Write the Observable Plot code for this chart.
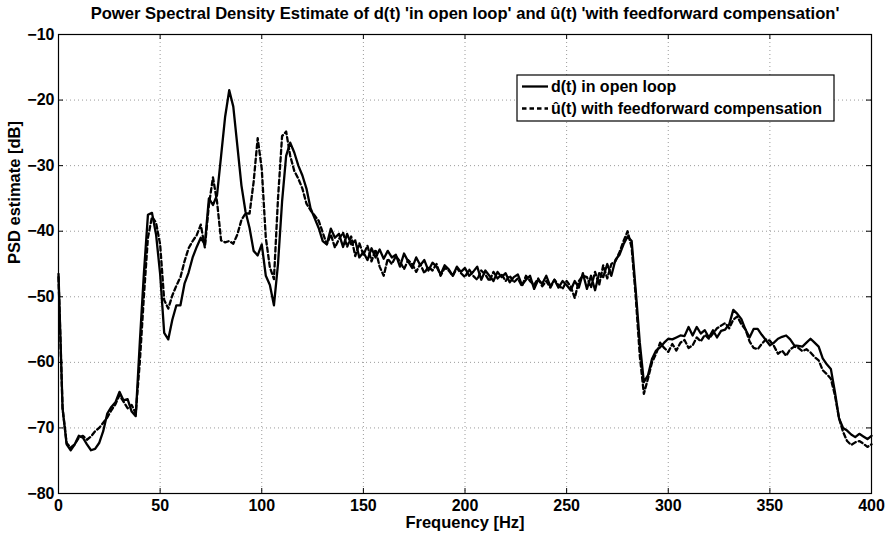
<!DOCTYPE html>
<html><head><meta charset="utf-8">
<script src="https://cdn.jsdelivr.net/npm/d3@7"></script>
<script src="https://cdn.jsdelivr.net/npm/@observablehq/plot@0.6"></script>
<style>body{margin:0;background:#fff}</style>
</head><body><div id="chart"></div>
<script>
// Frequency bins: 0..400 Hz, one bin every 2 Hz
const freqStep = 2;
// d(t) in open loop [dB]
const dOpenLoop = [
 -46.5, -67, -72.5, -73.4, -72.5, -71.2, -71.5, -72.5, -73.4, -73.2,
 -72.3, -70.5, -67.8, -66.8, -66.1, -64.5, -65.8, -65.6, -67.5, -68.2,
 -57, -46.5, -37.5, -37.2, -40.5, -46.5, -55.5, -56.5, -53.5, -51.3,
 -51.3, -48, -46.3, -44, -42.4, -41, -42, -35, -36, -34.5,
 -28.5, -22.5, -18.5, -21, -27, -33, -37, -39.5, -43, -43.7,
 -42, -46.8, -48.2, -51.3, -45, -35.5, -28.5, -26.5, -28, -30,
 -31.5, -33.5, -36.5, -38, -39.5, -41.5, -42, -39.6, -41, -40.4,
 -42.4, -40.4, -42, -41.4, -44, -43.2, -44.4, -42.6, -44, -42.8,
 -44.2, -43.0, -44.0, -43.6, -45.4, -43.4, -44.6, -45.6, -44.0, -45.2,
 -44.4, -46.0, -44.8, -45.4, -46.6, -45.2, -45.8, -46.8, -45.4, -46.2,
 -45.6, -46.8, -46.2, -45.4, -47.4, -46.0, -46.8, -47.6, -46.2, -47.0,
 -46.4, -47.8, -47.0, -46.6, -48.2, -47.4, -46.8, -48.8, -47.4, -48.0,
 -46.8, -48.4, -47.4, -48.6, -47.6, -48.2, -49.0, -47.6, -48.6, -46.4,
 -48.8, -46.8, -49, -46.4, -47, -45, -46.8, -44.4, -43.6, -42,
 -40.8, -41.5, -49, -57, -63, -62, -59.5, -58.2, -57.7, -57,
 -56.4, -56.5, -56.2, -55.9, -56, -54.6, -55.9, -54.6, -55.6, -55.1,
 -56.2, -55.1, -56.2, -55.2, -55, -54.2, -52, -52.6, -53.4, -55,
 -56.2, -54.9, -54.9, -55.8, -56.6, -57.4, -57, -56.4, -56.1, -55.9,
 -56.5, -57.4, -57.5, -57.6, -57, -56.4, -57, -57.6, -59.4, -60.3,
 -61, -64.5, -68.5, -70, -70.4, -71, -71.4, -70.9, -71.3, -71.7,
 -71.2
];
// û(t) with feedforward compensation [dB]
const uFeedforward = [
 -47, -67, -72.3, -73, -72.5, -71.5, -71.2, -71.8, -71.3, -70.5,
 -70, -69.2, -68.4, -67.3, -66.4, -65, -66, -67, -66.5, -67.8,
 -60, -50, -41, -37.8, -38.7, -42, -50.5, -51.8, -49.8, -48.3,
 -47, -44.6, -42.6, -41.5, -40.6, -39, -42.5, -36, -31.8, -35.5,
 -41.4, -41.7, -41.5, -41.9, -40.5, -38.3, -37.3, -37.3, -32.5, -25.8,
 -30.5, -41, -45.5, -47.3, -35, -25.5, -24.8, -28.5, -30.8, -32,
 -33.5, -35.8, -36.8, -37.6, -38.4, -40.2, -42, -40.5, -42.5, -41.2,
 -40.2, -42.4, -40.8, -43.8, -41.8, -43.6, -42.2, -44.6, -42.8, -45.4,
 -46.8, -44.2, -45.0, -43.8, -44.6, -45.8, -44.4, -45.0, -46.2, -45.0,
 -46.4, -45.4, -46.0, -45.0, -46.8, -45.6, -46.0, -46.8, -45.6, -46.4,
 -47.0, -45.8, -46.8, -47.4, -46.0, -46.6, -47.6, -46.2, -47.2, -46.6,
 -47.6, -46.8, -47.8, -47.2, -48.4, -46.8, -47.6, -48.2, -47.2, -48.4,
 -47.6, -48.6, -47.4, -48.2, -48.8, -47.6, -48.4, -50.2, -47.6, -46.8,
 -47, -48.6, -46.2, -48.2, -45.2, -47.2, -45, -44.6, -43.2, -41.5,
 -40, -42.5, -50, -59, -64.8, -62.5, -60, -58.7, -57, -57.8,
 -58.4, -57.2, -58.2, -57, -56.6, -57.8, -57.4, -56.2, -56.8, -55.8,
 -56.4, -55.6, -54.8, -54.4, -54, -54.8, -53.5, -53, -54.2, -55,
 -56.8, -57.8, -58, -57.2, -56.5, -56.7, -57.5, -58.7, -58.2, -59,
 -58, -57.6, -57.8, -58.3, -58, -58.5, -59.2, -59.7, -61.2, -61.8,
 -62.5, -65, -68.5, -70.6, -72, -72.6, -72.2, -72, -72.4, -72.9,
 -72.5
];
const xTicks = [0, 50, 100, 150, 200, 250, 300, 350, 400];
const yTicks = [-80, -70, -60, -50, -40, -30, -20, -10];
const titleText = "Power Spectral Density Estimate of d(t) 'in open loop' and û(t) 'with feedforward compensation'";
const xLabel = "Frequency [Hz]";
const yLabel = "PSD estimate [dB]";
const legendLabels = ["d(t) in open loop", "û(t) with feedforward compensation"];

const data = dOpenLoop.map((d, i) => ({f: i * freqStep, d, u: uFeedforward[i]}));

const W = 890, H = 535, mL = 58, mR = 19, mT = 34, mB = 42;
const innerW = W - mL - mR, innerH = H - mT - mB;
const font = "'Liberation Sans', Arial, Helvetica, sans-serif";
const gridStyle = {stroke: "#9a9a9a", strokeDasharray: "1,3", strokeWidth: 1, strokeOpacity: 1};

const chart = Plot.plot({
  width: W, height: H,
  marginLeft: mL, marginRight: mR, marginTop: mT, marginBottom: mB,
  style: {fontFamily: font, fontWeight: "bold", fontSize: "15px", background: "#fff", color: "#000", overflow: "visible"},
  x: {domain: [0, 400]},
  y: {domain: [-80, -10]},
  marks: [
    Plot.ruleX(xTicks.slice(1, -1), {x: d => d, ...gridStyle}),
    Plot.ruleY(yTicks.slice(1, -1), {y: d => d, ...gridStyle}),
    Plot.line(data, {x: "f", y: "d", stroke: "#000", strokeWidth: 2.3, strokeLinejoin: "round"}),
    Plot.line(data, {x: "f", y: "u", stroke: "#000", strokeWidth: 2.3, strokeDasharray: "4.5,3"}),
    Plot.frame({stroke: "#000", strokeWidth: 1.2}),
    Plot.tickX(xTicks, {x: d => d, insetTop: innerH - 5, stroke: "#000"}),
    Plot.tickX(xTicks, {x: d => d, insetBottom: innerH - 5, stroke: "#000"}),
    Plot.tickY(yTicks, {y: d => d, insetRight: innerW - 5, stroke: "#000"}),
    Plot.tickY(yTicks, {y: d => d, insetLeft: innerW - 5, stroke: "#000"}),
    Plot.axisX(xTicks, {tickSize: 0, tickPadding: 6, fontSize: 16, fontWeight: "bold", label: null}),
    Plot.axisY(yTicks, {tickSize: 0, tickPadding: 4, fontSize: 16, fontWeight: "bold", label: null}),
    Plot.text([xLabel], {frameAnchor: "bottom", lineAnchor: "middle", dy: 29, fontSize: 16.5, fontWeight: "bold"}),
    Plot.text([yLabel], {frameAnchor: "left", lineAnchor: "middle", dx: -44, rotate: -90, fontSize: 16.5, fontWeight: "bold"}),
    Plot.text([titleText], {frameAnchor: "top", lineAnchor: "middle", dy: -21, fontSize: 16.6, fontWeight: "bold"})
  ]
});

// Legend box (MATLAB style)
const svg = d3.select(chart);
const lg = svg.append("g").attr("font-family", font).attr("font-weight", "bold")
  .attr("font-size", 16).attr("text-anchor", "start");
const box = {x: 517, y: 75, w: 317, h: 46};
lg.append("rect").attr("x", box.x).attr("y", box.y).attr("width", box.w).attr("height", box.h)
  .attr("fill", "#fff").attr("stroke", "#000").attr("stroke-width", 1.2);
const dashes = [null, "4.5,3"];
legendLabels.forEach((lab, i) => {
  const yy = box.y + 11.5 + i * 22;
  lg.append("line").attr("x1", box.x + 5).attr("x2", box.x + 31).attr("y1", yy).attr("y2", yy)
    .attr("stroke", "#000").attr("stroke-width", 2.3).attr("stroke-dasharray", dashes[i]);
  lg.append("text").attr("x", box.x + 34).attr("y", yy).attr("dy", "0.35em").text(lab);
});

document.getElementById("chart").appendChild(chart);
</script>
</body></html>
